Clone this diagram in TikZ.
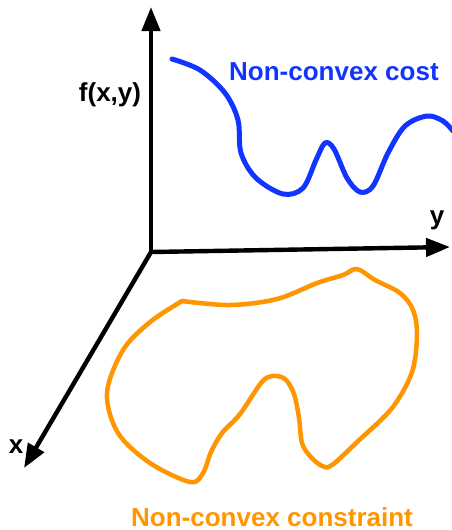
\documentclass[tikz,border=0pt]{standalone}
\usepackage{fontspec}
\setmainfont{Liberation Sans}
\usetikzlibrary{arrows.meta}
\definecolor{costblue}{RGB}{18,52,255}
\definecolor{setorange}{RGB}{255,150,0}

\begin{document}
\begin{tikzpicture}[x=1pt,y=-1pt,
  shadowed/.style={preaction={draw=black!22,transform canvas={shift={(1.2pt,-1.8pt)}}}},
  axis/.style={line width=4.4pt,shadowed,-{Triangle[length=24pt,width=18pt]}},
  lbl/.style={font=\fontsize{26}{31}\selectfont\bfseries,inner sep=0pt}]
			\useasboundingbox (0,0) rectangle (451,530);
			\coordinate (origin) at (151,252);
			\coordinate (ftip) at (151,7);
			\coordinate (ytip) at (450,247);
			\coordinate (xtip) at (24,468);
			\draw[axis] (origin) -- (ftip);
			\draw[axis] (origin) -- (ytip);
			\draw[axis] (origin) -- (xtip);
			\node[lbl] (flbl) at (110,95) {f(x,y)};
			\node[lbl] (ylbl) at (437,220) {y};
			\node[lbl] (xlbl) at (16,447) {x};
			\draw[costblue,line width=5pt,line cap=round,shadowed] plot[smooth,tension=0.55] coordinates {
				(172,59) (200,70) (225,93) (238,120) (241,153) (256,178) (283,194) (303,188)
				(316,160) (325,143) (334,149) (347,178) (360,192) (373,186) (388,153) (405,126)
				(427,116) (443,121) (453,131)};
			\node[lbl,costblue,anchor=base west] (costlbl) at (229,80) {Non-convex cost};
			\draw[setorange,line width=4.5pt,line join=round,shadowed] plot[smooth,tension=0.55] coordinates {
				(182,301) (230,305) (277,299) (317,283) (343,275) (357,269) (375,280) (400,293)
				(413,310) (417,335) (412,372) (392,408) (357,442) (332,465) (322,466) (310,456)
				(302,443) (299,418) (294,394) (285,379) (272,376) (261,383) (240,414) (222,433)
				(211,452) (203,473) (190,482) (150,463) (118,433) (107,393) (123,350) (150,322)
				(182,301)} -- cycle;
			\node[lbl,setorange,anchor=base west] (setlbl) at (131,526) {Non-convex constraint};
		\end{tikzpicture}
\end{document}
